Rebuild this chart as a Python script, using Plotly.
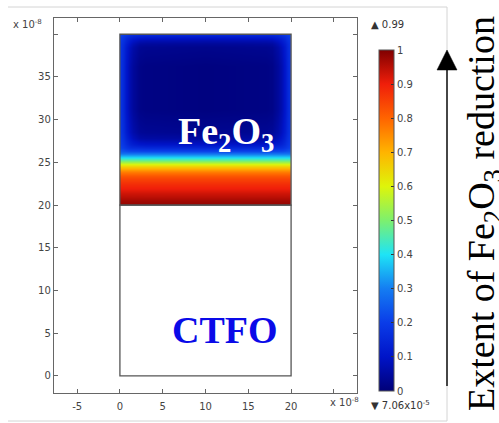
import plotly.graph_objects as go

# ---------------- data ----------------
# Fe2O3 domain (x 0..20, y 20..40, units 1e-8 m): cell edges and read-off reduction extent
x_edges = [0, 0.1, 0.75, 1.5, 3, 17, 18.5, 19.25, 19.9, 20]
y_edges = [20, 20.1, 20.9, 21.9, 23.0, 23.8, 24.4, 24.9, 25.4, 25.8, 26.3,
           27.1, 28.5, 34.0, 38.5, 39.3, 39.9, 40]
extent = [
    [0.99, 0.99, 0.99, 0.99, 0.99, 0.99, 0.99, 0.99, 0.99],
    [0.97, 0.97, 0.97, 0.97, 0.97, 0.97, 0.97, 0.97, 0.97],
    [0.93, 0.93, 0.93, 0.93, 0.93, 0.93, 0.93, 0.93, 0.93],
    [0.88, 0.88, 0.88, 0.88, 0.88, 0.88, 0.88, 0.88, 0.88],
    [0.82, 0.82, 0.82, 0.82, 0.82, 0.82, 0.82, 0.82, 0.82],
    [0.73, 0.73, 0.73, 0.73, 0.73, 0.73, 0.73, 0.73, 0.73],
    [0.63, 0.63, 0.63, 0.63, 0.63, 0.63, 0.63, 0.63, 0.63],
    [0.51, 0.51, 0.51, 0.51, 0.51, 0.51, 0.51, 0.51, 0.51],
    [0.39, 0.39, 0.39, 0.39, 0.39, 0.39, 0.39, 0.39, 0.39],
    [0.28, 0.28, 0.28, 0.28, 0.28, 0.28, 0.28, 0.28, 0.28],
    [0.22, 0.20, 0.17, 0.16, 0.15, 0.16, 0.17, 0.20, 0.22],
    [0.21, 0.17, 0.11, 0.06, 0.05, 0.06, 0.11, 0.17, 0.21],
    [0.20, 0.15, 0.07, 0.02, 0.01, 0.02, 0.07, 0.15, 0.20],
    [0.20, 0.15, 0.07, 0.02, 0.01, 0.02, 0.07, 0.15, 0.20],
    [0.20, 0.16, 0.10, 0.05, 0.04, 0.05, 0.10, 0.16, 0.20],
    [0.21, 0.18, 0.14, 0.11, 0.10, 0.11, 0.14, 0.18, 0.21],
    [0.23, 0.21, 0.19, 0.18, 0.18, 0.18, 0.19, 0.21, 0.23],
]
ctfo_box = [0, 20, 0, 20]      # x0, x1, y0, y1
fe2o3_box = [0, 20, 20, 40]

x_ticks = [-5, 0, 5, 10, 15, 20, 25]
x_ticklabels = ["-5", "0", "5", "10", "15", "20", ""]
y_ticks = [0, 5, 10, 15, 20, 25, 30, 35, 40]
y_ticklabels = ["0", "5", "10", "15", "20", "25", "30", "35", ""]
cb_ticks = [0, 0.1, 0.2, 0.3, 0.4, 0.5, 0.6, 0.7, 0.8, 0.9, 1]
cb_ticklabels = ["0", "0.1", "0.2", "0.3", "0.4", "0.5", "0.6", "0.7", "0.8", "0.9", "1"]
max_label = "▲ 0.99"
min_label = "▼ 7.06x10<sup>-5</sup>"

rainbow = [
    [0.0, "rgb(0,0,120)"],
    [0.1, "rgb(0,20,200)"],
    [0.2, "rgb(10,60,232)"],
    [0.3, "rgb(20,125,242)"],
    [0.4, "rgb(30,228,246)"],
    [0.5, "rgb(125,240,110)"],
    [0.6, "rgb(222,245,10)"],
    [0.7, "rgb(255,180,0)"],
    [0.8, "rgb(255,100,0)"],
    [0.9, "rgb(240,30,10)"],
    [1.0, "rgb(128,0,0)"],
]

# ---------------- layout helpers ----------------
W, H = 499, 423
L, R, T, B = 54, 357, 18, 393
def px(xp):
    return (xp - L) / (R - L)
def py(yp):
    return (B - yp) / (B - T)

fig = go.Figure()
fig.add_trace(go.Heatmap(
    x=x_edges, y=y_edges, z=extent, zmin=0, zmax=1, zsmooth="best",
    colorscale=rainbow, hoverinfo="skip",
    colorbar=dict(
        thickness=15, lenmode="pixels", len=341,
        x=px(379), xanchor="left", xpad=0,
        y=py(50), yanchor="top", ypad=0,
        outlinewidth=1, outlinecolor="#555",
        ticks="inside", ticklen=3, tickcolor="#333",
        tickvals=cb_ticks, ticktext=cb_ticklabels,
        tickfont=dict(family="DejaVu Sans", size=10, color="#444"),
    ),
))

shapes = []
for bx in (ctfo_box, fe2o3_box):
    shapes.append(dict(type="rect", xref="x", yref="y", x0=bx[0], x1=bx[1], y0=bx[2], y1=bx[3],
                       line=dict(color="#555", width=1.3)))
# outer panel lines
for (a, b, c, d) in [(8, 7, 447, 7), (8, 421, 447, 421), (447, 7, 447, 421)]:
    shapes.append(dict(type="line", xref="paper", yref="paper",
                       x0=px(a), y0=py(b), x1=px(c), y1=py(d),
                       line=dict(color="#d4d4d4", width=1)))
# arrow
shapes.append(dict(type="line", xref="paper", yref="paper",
                   x0=px(447), y0=py(386), x1=px(447), y1=py(68),
                   line=dict(color="black", width=1.4)))
shapes.append(dict(type="path", xref="paper", yref="paper",
                   path=f"M {px(437)} {py(70)} L {px(457)} {py(70)} L {px(447)} {py(50)} Z",
                   fillcolor="black", line=dict(color="black", width=0.5)))

ann = []
ann.append(dict(text="x 10<sup>-8</sup>", xref="paper", yref="paper", x=px(11), y=py(16),
                xanchor="left", showarrow=False,
                font=dict(family="DejaVu Sans", size=10, color="#444")))
ann.append(dict(text="x 10<sup>-8</sup>", xref="paper", yref="paper", x=px(328), y=py(410),
                xanchor="left", showarrow=False,
                font=dict(family="DejaVu Sans", size=10, color="#444")))
ann.append(dict(text=max_label, xref="paper", yref="paper", x=px(369), y=py(17),
                xanchor="left", showarrow=False,
                font=dict(family="DejaVu Sans", size=10, color="#333")))
ann.append(dict(text=min_label, xref="paper", yref="paper", x=px(369), y=py(413),
                xanchor="left", showarrow=False,
                font=dict(family="DejaVu Sans", size=10, color="#333")))
ann.append(dict(text="<b>Fe<sub>2</sub>O<sub>3</sub></b>", xref="x", yref="y", x=12.4, y=28.3,
                showarrow=False, font=dict(family="Liberation Serif", size=38, color="white")))
ann.append(dict(text="<b>CTFO</b>", xref="x", yref="y", x=12.3, y=5.4,
                showarrow=False, font=dict(family="Liberation Serif", size=38, color="#0a0ae8")))
ann.append(dict(text="Extent of Fe<sub>2</sub>O<sub>3</sub> reduction", xref="paper", yref="paper",
                x=px(510), y=py(214), textangle=-90, showarrow=False,
                font=dict(family="Liberation Serif", size=38, color="black")))

axis_common = dict(showgrid=False, zeroline=False, showline=True, mirror="ticks",
                   linecolor="#666", linewidth=1.3, ticks="inside", ticklen=4,
                   tickcolor="#666", tickfont=dict(family="DejaVu Sans", size=10, color="#444"))
fig.update_layout(
    width=W, height=H, margin=dict(l=L, r=W - R, t=T, b=H - B),
    paper_bgcolor="white", plot_bgcolor="white", showlegend=False,
    xaxis=dict(range=[-7.7, 27.7], tickvals=x_ticks, ticktext=x_ticklabels,
               ticklabelstandoff=4, **axis_common),
    yaxis=dict(range=[-2, 41.9], tickvals=y_ticks, ticktext=y_ticklabels, **axis_common),
    shapes=shapes, annotations=ann,
)
fig.write_html("out.html")
